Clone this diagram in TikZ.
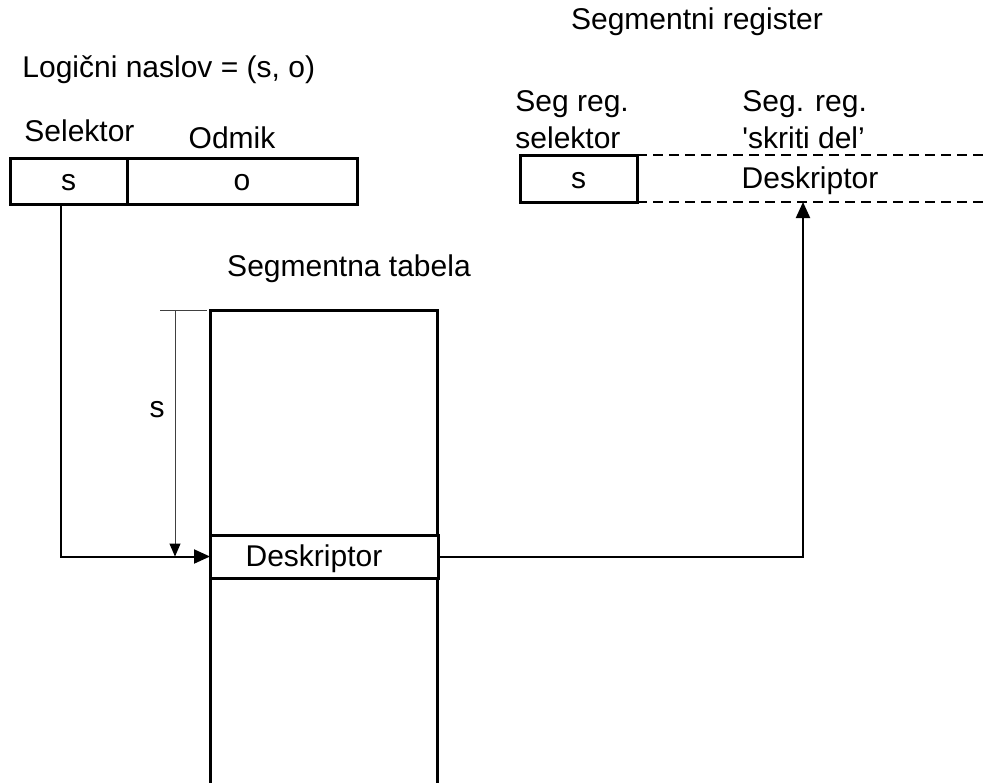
\documentclass[tikz,border=0pt]{standalone}
\usepackage{fontspec}
\setmainfont{Liberation Sans}
\usetikzlibrary{positioning, arrows.meta, calc}

\tikzset{
    cell/.style={draw, line width=1.5pt, inner sep=0pt, outer sep=0pt, minimum height=23pt,
                 text height=0.95em, text depth=0pt},
    lbl/.style={inner sep=0pt},
    link/.style={line width=1pt, -{Triangle[length=8pt,width=7pt]}},
    dimline/.style={line width=0.5pt, black!75},
    hiddenpart/.style={line width=1pt, dash pattern=on 5pt off 3pt}
}

\begin{document}
\begin{tikzpicture}[x=0.5pt, y=-0.5pt, font=\fontsize{15}{18.5}\selectfont]
    \useasboundingbox (0,0) rectangle (983,782);

    % logical address (s, o)
    \node[lbl, anchor=west] (addr) at (22,70) {Logični naslov = (s, o)};
    \node[lbl, anchor=west] (selname) at (24,131) {Selektor};
    \node[lbl] (offname) at (232,138) {Odmik};
    \node[cell, minimum width=58.5pt, anchor=north west] (sel) at (10,158) {s};
    \node[cell, minimum width=115pt, anchor=west] (off) at (sel.east) {o};

    % segment table
    \node[lbl] (tabname) at (349,269) {Segmentna tabela};
    \draw[line width=1.5pt] (210,800) |- (437,310) -- (437,800);
    \node[cell, minimum width=114pt, minimum height=21.5pt, fill=white,
          anchor=north west] (desc) at (210,535) {Deskriptor\hspace*{10pt}};

    % offset s inside the table
    \coordinate (dimtop) at (175,310);
    \draw[dimline] (160,310) -- (207,310);
    \draw[dimline, -{Triangle[length=6.5pt,width=5.5pt, fill=black, color=black]}] (dimtop) -- (dimtop |- desc.west);
    \node[lbl] (sdim) at (157,410) {s};

    % segment register
    \node[lbl] (regname) at (697,22) {Segmentni register};
    \node[lbl, anchor=north west, align=left] (regselname) at (515,90) {Seg reg.\\selektor};
    \node[lbl, anchor=north west, align=left] (reghidname) at (742,90) {Seg. reg.\\\textquotesingle skriti del’};
    \node[cell, minimum width=58.5pt, minimum height=23.5pt, anchor=north west] (regsel) at (520,155) {s};
    \node[inner sep=0pt, outer sep=0pt, minimum width=173pt, minimum height=23.5pt,
          text height=0.95em, text depth=0pt, anchor=west] (reghid) at (regsel.east) {Deskriptor};
    \draw[hiddenpart] (reghid.north west) -- (reghid.north east);
    \draw[hiddenpart] (reghid.south west) -- (reghid.south east);

    % connectors
    \draw[link] ($(sel.south)+(-8,0)$) |- (desc.west);
    \draw[link] (desc.east) -| ($(reghid.south)+(-7,0)$);
\end{tikzpicture}
\end{document}
